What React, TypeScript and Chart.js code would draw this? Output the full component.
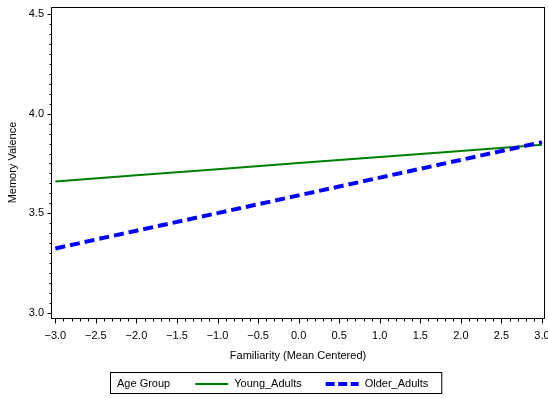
import React, { useEffect, useRef } from "react";
import { Chart, registerables } from "chart.js";

Chart.register(...registerables);

// ---- data ----
const FAMILIARITY = [-3, -2, -1, 0, 1, 2, 3];
const YOUNG_ADULTS = [3.66, 3.691, 3.721, 3.752, 3.783, 3.813, 3.844];
const OLDER_ADULTS = [3.324, 3.413, 3.501, 3.59, 3.679, 3.768, 3.857];
const SERIES_LABELS = ["Young_Adults", "Older_Adults"];
const X_TICKS = [-3, -2.5, -2, -1.5, -1, -0.5, 0, 0.5, 1, 1.5, 2, 2.5, 3];
const Y_TICKS = [3.0, 3.5, 4.0, 4.5];
const X_MINOR_STEP = 0.1;
const Y_MINOR_STEP = 0.05;
const LEGEND_TITLE = "Age Group";
const X_TITLE = "Familiarity (Mean Centered)";
const Y_TITLE = "Memory Valence";

const FONT_FAMILY = "'Liberation Sans', Arial, sans-serif";
const GREEN = "#008000";
const BLUE = "#0000ff";

const fmt = (v: number) => {
  const s = Number(v).toFixed(1);
  return s.startsWith("-") ? "\u2212" + s.slice(1) : s;
};

const frameAndTicks = {
  id: "frameAndTicks",
  afterDatasetsDraw(chart: any) {
    const { ctx, chartArea: a, scales } = chart;
    const x = scales.x;
    const y = scales.y;
    const L = Math.round(a.left) - 0.5;
    const R = Math.round(a.right) + 0.5;
    const T = Math.round(a.top) + 0.5;
    const B = Math.round(a.bottom) + 0.5;
    ctx.save();
    ctx.strokeStyle = "#000";
    ctx.lineWidth = 1;
    ctx.setLineDash([]);
    ctx.strokeRect(L, T, R - L, B - T);
    ctx.beginPath();
    // x ticks
    const xMin = X_TICKS[0];
    const xMax = X_TICKS[X_TICKS.length - 1];
    const nx = Math.round((xMax - xMin) / X_MINOR_STEP);
    for (let i = 0; i <= nx; i++) {
      const v = xMin + i * X_MINOR_STEP;
      const major = X_TICKS.some((t) => Math.abs(t - v) < 1e-6);
      const px = Math.round(x.getPixelForValue(v)) + 0.5;
      ctx.moveTo(px, B);
      ctx.lineTo(px, B + (major ? 5 : 3));
    }
    // y ticks
    const yMin = Y_TICKS[0];
    const yMax = Y_TICKS[Y_TICKS.length - 1];
    const ny = Math.round((yMax - yMin) / Y_MINOR_STEP);
    for (let i = 0; i <= ny; i++) {
      const v = yMin + i * Y_MINOR_STEP;
      const major = Y_TICKS.some((t) => Math.abs(t - v) < 1e-6);
      const py = Math.round(y.getPixelForValue(v)) + 0.5;
      ctx.moveTo(L, py);
      ctx.lineTo(L - (major ? 4 : 2), py);
    }
    ctx.stroke();
    ctx.restore();
  },
};

const boxedLegend = {
  id: "boxedLegend",
  afterDraw(chart: any) {
    const { ctx } = chart;
    const ds = chart.data.datasets;
    ctx.save();
    ctx.font = `11px ${FONT_FAMILY}`;
    ctx.fillStyle = "#000";
    ctx.textBaseline = "middle";
    ctx.textAlign = "left";
    const boxLeft = 111;
    const boxTop = 373;
    const boxH = 21;
    const cy = boxTop + boxH / 2;
    let cx = boxLeft + 6;
    ctx.fillText(LEGEND_TITLE, cx, cy);
    cx += ctx.measureText(LEGEND_TITLE).width + 25;
    ds.forEach((d: any, i: number) => {
      const sw = 33;
      ctx.save();
      ctx.strokeStyle = d.borderColor;
      ctx.lineWidth = d.borderWidth;
      ctx.setLineDash(d.borderDash && d.borderDash.length ? [9, 3.5] : []);
      ctx.beginPath();
      ctx.moveTo(cx, Math.round(cy) + (d.borderWidth % 2 ? 0.5 : 0));
      ctx.lineTo(cx + sw, Math.round(cy) + (d.borderWidth % 2 ? 0.5 : 0));
      ctx.stroke();
      ctx.restore();
      cx += sw + 6;
      ctx.fillText(d.label, cx, cy);
      cx += ctx.measureText(d.label).width;
      if (i < ds.length - 1) cx += 24;
    });
    const boxRight = cx + 14;
    ctx.strokeStyle = "#000";
    ctx.lineWidth = 1;
    ctx.strokeRect(boxLeft - 0.5, boxTop - 0.5, boxRight - boxLeft, boxH);
    ctx.restore();
  },
};

export default function App() {
  const ref = useRef<HTMLCanvasElement | null>(null);

  useEffect(() => {
    if (!ref.current) return;
    const chart = new Chart(ref.current, {
      type: "line",
      data: {
        datasets: [
          {
            label: SERIES_LABELS[0],
            data: FAMILIARITY.map((x, i) => ({ x, y: YOUNG_ADULTS[i] })),
            borderColor: GREEN,
            backgroundColor: GREEN,
            borderWidth: 2,
            pointRadius: 0,
            tension: 0,
            order: 1,
          },
          {
            label: SERIES_LABELS[1],
            data: FAMILIARITY.map((x, i) => ({ x, y: OLDER_ADULTS[i] })),
            borderColor: BLUE,
            backgroundColor: BLUE,
            borderWidth: 4,
            borderDash: [10, 5],
            pointRadius: 0,
            tension: 0,
            order: 0,
          },
        ],
      },
      options: {
        animation: false,
        responsive: false,
        devicePixelRatio: 1,
        layout: { autoPadding: false, padding: { top: 7, right: 4, bottom: 35, left: 0 } },
        plugins: {
          legend: { display: false },
          title: { display: false },
          tooltip: { enabled: false },
        },
        scales: {
          x: {
            type: "linear",
            min: -3.041,
            max: 3.025,
            grid: { display: false, drawTicks: false },
            border: { display: false },
            afterFit: (s: any) => {
              s.height = 45;
              s.paddingLeft = 0;
              s.paddingRight = 0;
            },
            afterBuildTicks: (s: any) => {
              s.ticks = X_TICKS.map((value) => ({ value }));
            },
            ticks: {
              autoSkip: false,
              maxRotation: 0,
              padding: 11,
              color: "#000",
              font: { family: FONT_FAMILY, size: 11 },
              callback: (v: any) => fmt(v),
            },
            title: {
              display: true,
              text: X_TITLE,
              color: "#000",
              font: { family: FONT_FAMILY, size: 11 },
              padding: { top: 0, bottom: 0 },
            },
          },
          y: {
            type: "linear",
            min: 2.975,
            max: 4.535,
            grid: { display: false, drawTicks: false },
            border: { display: false },
            afterFit: (s: any) => {
              s.width = 52;
              s.paddingTop = 0;
              s.paddingBottom = 0;
            },
            afterBuildTicks: (s: any) => {
              s.ticks = Y_TICKS.map((value) => ({ value }));
            },
            ticks: {
              autoSkip: false,
              padding: 8,
              color: "#000",
              font: { family: FONT_FAMILY, size: 11 },
              callback: (v: any) => fmt(v),
            },
            title: {
              display: true,
              text: Y_TITLE,
              color: "#000",
              font: { family: FONT_FAMILY, size: 11 },
              padding: { top: 6, bottom: 0 },
            },
          },
        },
      },
      plugins: [frameAndTicks, boxedLegend],
    });
    return () => chart.destroy();
  }, []);

  return (
    <div
      style={{
        position: "fixed",
        left: 0,
        top: 0,
        width: 548,
        height: 398,
        background: "#fff",
      }}
    >
      <canvas
        ref={ref}
        width={548}
        height={398}
        style={{ display: "block", width: 548, height: 398 }}
      />
    </div>
  );
}
